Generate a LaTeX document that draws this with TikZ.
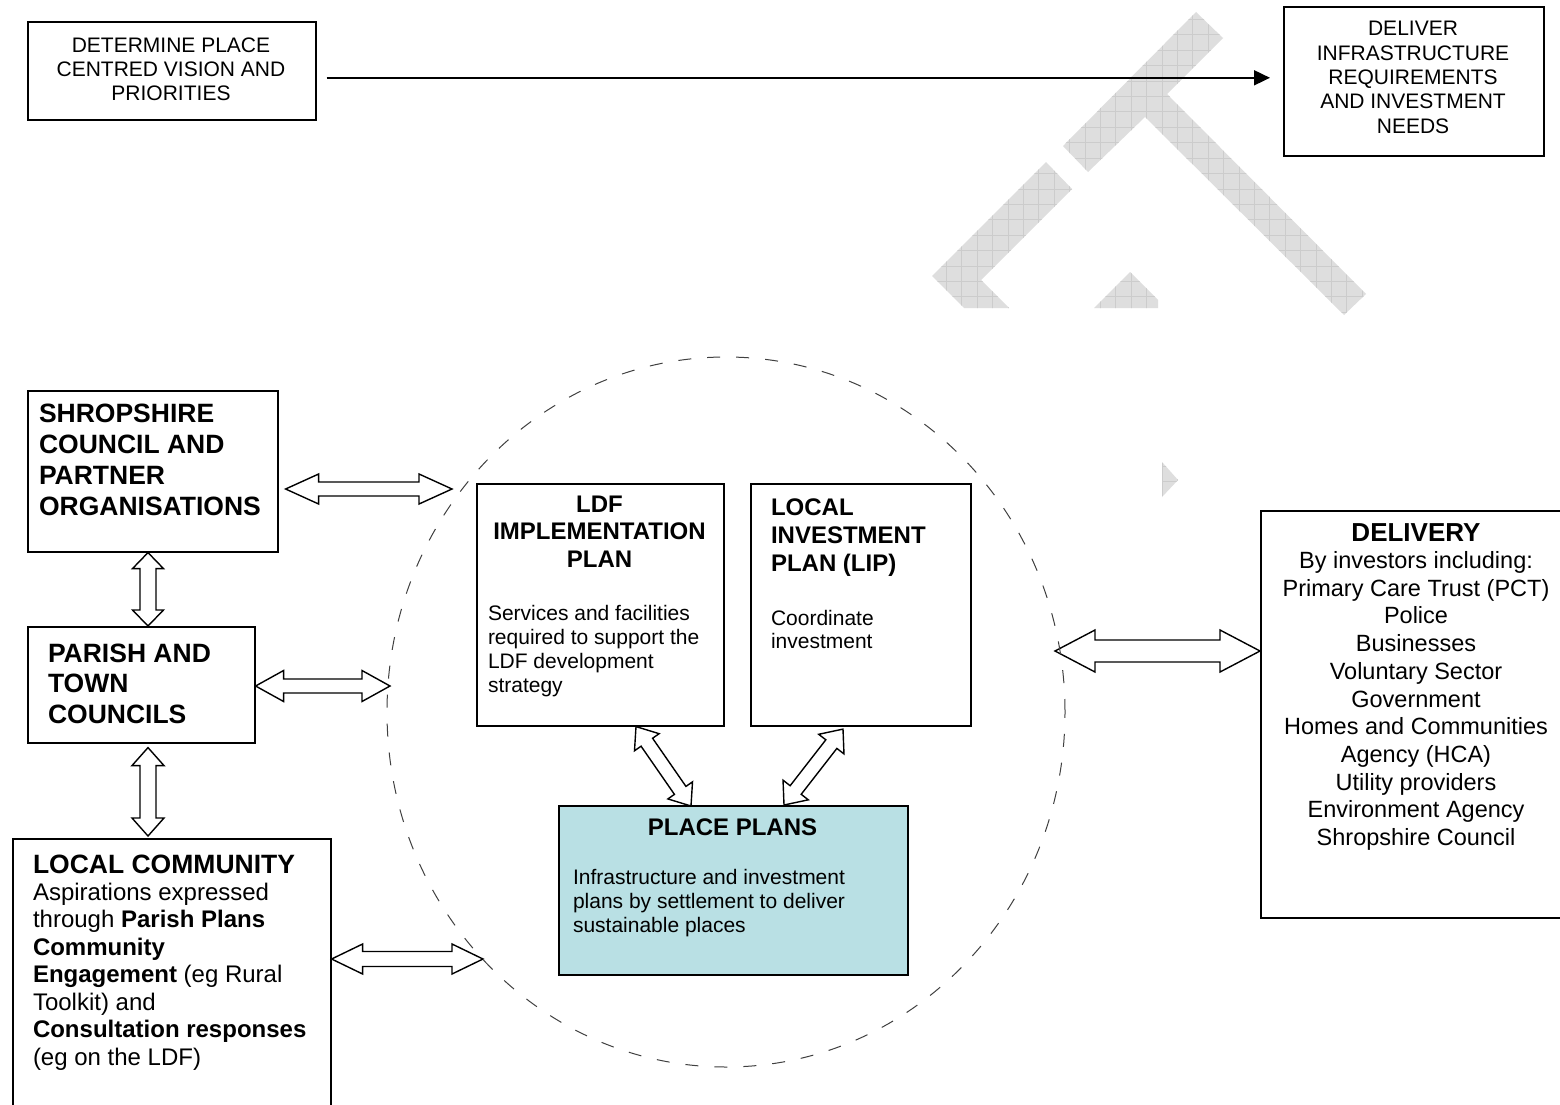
\documentclass[tikz,border=0pt]{standalone}
\usepackage{fontspec}
\setmainfont{Liberation Sans}
\usetikzlibrary{calc,shapes.geometric,arrows.meta}
\definecolor{wmfill}{RGB}{222,222,222}
\definecolor{wmgrid}{RGB}{204,204,204}
\definecolor{placefill}{RGB}{185,224,228}
\newcommand{\setfs}[2]{\fontsize{#1}{#2}\selectfont}
% hollow double-headed block arrow: #1 prefix, #2 tip A, #3 tip B, #4 head length, #5 head half width, #6 shaft half width
\newcommand{\dblarrow}[6]{%
  \coordinate (#1h1) at ($(#2)!#4!(#3)$);
  \coordinate (#1h2) at ($(#3)!#4!(#2)$);
  \draw[barrow] (#2) -- ($(#1h1)!#5!90:(#3)$) -- ($(#1h1)!#6!90:(#3)$)
    -- ($(#1h2)!#6!-90:(#2)$) -- ($(#1h2)!#5!-90:(#2)$) -- (#3)
    -- ($(#1h2)!#5!90:(#2)$) -- ($(#1h2)!#6!90:(#2)$)
    -- ($(#1h1)!#6!-90:(#3)$) -- ($(#1h1)!#5!-90:(#3)$) -- cycle;}
\begin{document}
\begin{tikzpicture}[x=1pt,y=-1pt,
  box/.style={draw, line width=1.6pt, rectangle, inner sep=0pt, anchor=north west},
  txt/.style={inner sep=0pt, outer sep=0pt},
  barrow/.style={draw, line width=1.4pt, fill=white, line join=miter},
  ring/.style={draw=black!75, line width=1pt, dash pattern=on 13pt off 16pt, ellipse, inner sep=0pt}]
\useasboundingbox (0,0) rectangle (1560,1105);
\clip (0,0) rectangle (1560,1105);
\fill[white] (0,0) rectangle (1560,1105);

% watermark
\begin{scope}
  \clip (1196,12) -- (1223,38) -- (1167,94) -- (1366,294) -- (1344,315) -- (1145,117) -- (1088,172) -- (1063,146) -- cycle
        (1046,162) -- (1072,189) -- (981,280) -- (1009,308) -- (964,308) -- (932,276) -- cycle
        (1130,272) -- (1158,300) -- (1158,308) -- (1094,308) -- cycle
        (1162,462) -- (1178,480) -- (1162,497) -- cycle;
  \fill[wmfill] (900,0) rectangle (1400,520);
  \foreach \k in {0,...,33} {
    \draw[wmgrid, line width=0.6pt] ({900+15.4*\k},0) -- ({900+15.4*\k},520);
    \draw[wmgrid, line width=0.6pt] (900,{4+15.4*\k}) -- (1400,{4+15.4*\k});
  }
\end{scope}

% top row (multi-line text nodes are anchored at the baseline of their last line)
\node[box, minimum width=288pt, minimum height=98pt] (det) at (27,21) {};
\node[txt, align=center, font=\setfs{21}{23.6}, anchor=base] (detT) at (171,100.2)
  {DETERMINE PLACE\\CENTRED VISION AND\\PRIORITIES};
\node[box, minimum width=260pt, minimum height=149pt] (dlv) at (1283,6) {};
\node[txt, align=center, font=\setfs{21}{24.3}, anchor=base] (dlvT) at (1413,133.2)
  {DELIVER\\INFRASTRUCTURE\\REQUIREMENTS\\AND INVESTMENT\\NEEDS};
\draw[line width=1.8pt, -{Triangle[length=16pt,width=15pt]}]
  ($(det.east)+(10,7)$) -- ($(dlv.west)+(-13,-3.5)$);

% left column
\node[box, minimum width=250pt, minimum height=161pt] (shrop) at (27,390) {};
\node[txt, align=left, font=\bfseries\setfs{26.5}{31}, anchor=base west] (shropT) at (39,515)
  {SHROPSHIRE\\COUNCIL AND\\PARTNER\\ORGANISATIONS};
\node[box, minimum width=227pt, minimum height=116pt] (parish) at (27,626) {};
\node[txt, align=left, font=\bfseries\setfs{26.5}{30.5}, anchor=base west] (parishT) at (48,723)
  {PARISH AND\\TOWN\\COUNCILS};
\node[box, minimum width=318pt, minimum height=300pt] (local) at (12,838) {};
\node[txt, font=\bfseries\setfs{26.5}{30}, anchor=base west] (localT) at (33,873) {LOCAL COMMUNITY};
\node[txt, align=left, font=\setfs{24}{27.5}, anchor=base west] (localB) at (33,1065)
  {Aspirations expressed\\through \textbf{Parish Plans}\\\textbf{Community}\\\textbf{Engagement} (eg Rural\\Toolkit) and\\\textbf{Consultation responses}\\(eg on the LDF)};

% centre boxes
\node[box, minimum width=247pt, minimum height=242pt] (ldf) at (476,483) {};
\node[txt, align=center, font=\bfseries\setfs{24}{27.8}, anchor=base] (ldfT) at (599.5,567.6)
  {LDF\\IMPLEMENTATION\\PLAN};
\node[txt, align=left, font=\setfs{21}{24}, anchor=base west] (ldfB) at (488,692)
  {Services and facilities\\required to support the\\LDF development\\strategy};
\node[box, minimum width=220pt, minimum height=242pt] (lip) at (750,483) {};
\node[txt, align=left, font=\bfseries\setfs{24}{28}, anchor=base west] (lipT) at (771,571)
  {LOCAL\\INVESTMENT\\PLAN (LIP)};
\node[txt, align=left, font=\setfs{21}{23.5}, anchor=base west] (lipB) at (771,648.5)
  {Coordinate\\investment};
\node[box, fill=placefill, minimum width=349pt, minimum height=169pt] (place) at (558,805) {};
\node[txt, font=\bfseries\setfs{24}{28}, anchor=base] (placeT) at (732.5,835) {PLACE PLANS};
\node[txt, align=left, font=\setfs{21}{24}, anchor=base west] (placeB) at (573,932)
  {Infrastructure and investment\\plans by settlement to deliver\\sustainable places};

% right box
\node[box, minimum width=302pt, minimum height=407pt] (deliv) at (1260,510) {};
\node[txt, font=\bfseries\setfs{26}{30}, anchor=base] (delivT) at (1416,541) {DELIVERY};
\node[txt, align=center, font=\setfs{23.5}{27.7}, anchor=base] (delivB) at (1416,845.5)
  {By investors including:\\Primary Care Trust (PCT)\\Police\\Businesses\\Voluntary Sector\\Government\\Homes and Communities\\Agency (HCA)\\Utility providers\\Environment Agency\\Shropshire Council};

% connector end points
\coordinate (vx) at (148,0);
\coordinate (e1) at (452,489);
\coordinate (e2) at (390,686);
\coordinate (e5) at (483,959);
\coordinate (e6) at (1055,651);
\coordinate (s1) at ($(shrop.east |- e1)+(7,0)$);
\coordinate (p2) at (parish.east |- e2);
\coordinate (l5) at (local.east |- e5);
\coordinate (d6) at (deliv.west |- e6);
\coordinate (v3a) at (vx |- shrop.south);
\coordinate (v3b) at (vx |- parish.north);
\coordinate (v4a) at ($(vx |- parish.south)+(0,4)$);
\coordinate (v4b) at ($(vx |- local.north)+(0,-2)$);
\coordinate (t7a) at ($(ldf.south west)+(160,0)$);
\coordinate (t7b) at ($(place.north west)+(133,1)$);
\coordinate (t8a) at ($(lip.south west)+(93,2.5)$);
\coordinate (t8b) at ($(place.north west)+(226,0)$);

% hollow arrows
\dblarrow{a1}{s1}{e1}{33pt}{15pt}{7pt}
\dblarrow{a2}{p2}{e2}{28pt}{15.5pt}{7pt}
\dblarrow{a3}{v3a}{v3b}{16pt}{15.5pt}{8pt}
\dblarrow{a4}{v4a}{v4b}{18pt}{16pt}{8pt}
\dblarrow{a5}{l5}{e5}{31pt}{15pt}{7.5pt}
\dblarrow{a6}{e6}{d6}{40pt}{21pt}{11pt}
\dblarrow{a7}{t7a}{t7b}{19pt}{15pt}{7pt}
\dblarrow{a8}{t8a}{t8b}{19pt}{16pt}{7pt}

% dashed ring (drawn last, over the arrow tips)
\node[ring, minimum width=678pt, minimum height=710pt] (circ) at (726,712) {};
\end{tikzpicture}
\end{document}
